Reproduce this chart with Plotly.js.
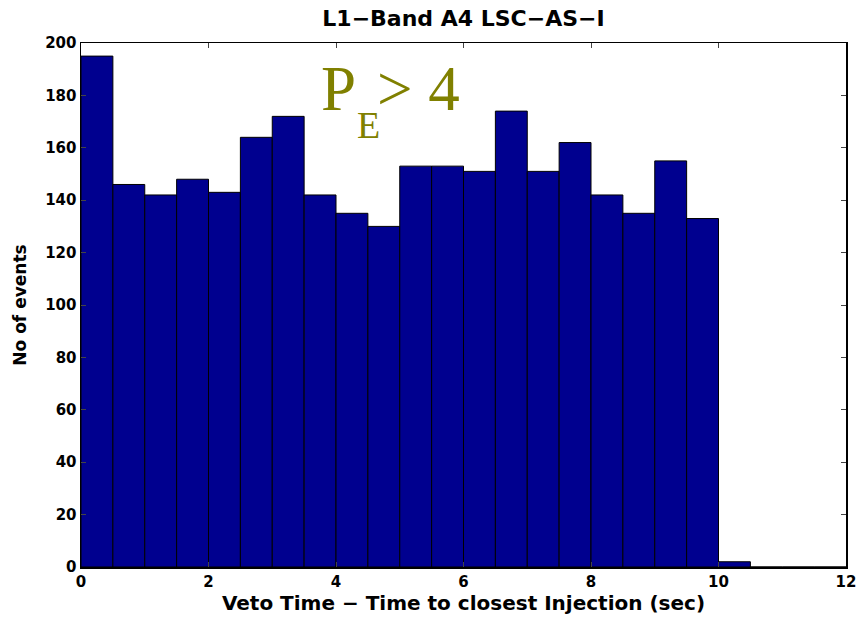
<!DOCTYPE html>
<html>
<head>
<meta charset="utf-8">
<script src="https://cdn.plot.ly/plotly-3.0.1.min.js"></script>
<style>html,body{margin:0;padding:0;background:#fff;}#chart{width:857px;height:618px;}</style>
</head>
<body>
<div id="chart"></div>
<script>
var binCenters = [0.25,0.75,1.25,1.75,2.25,2.75,3.25,3.75,4.25,4.75,5.25,5.75,6.25,6.75,7.25,7.75,8.25,8.75,9.25,9.75,10.25,10.75,11.25,11.75];
var counts = [195,146,142,148,143,164,172,142,135,130,153,153,151,174,151,162,142,135,155,133,2,0,0,0];
var xTicks = [0,2,4,6,8,10,12];
var yTicks = [0,20,40,60,80,100,120,140,160,180,200];

var font = 'DejaVu Sans, Liberation Sans, Arial, sans-serif';
var serif = 'Liberation Serif, Times New Roman, serif';
var olive = '#808000';
var trace = {
  type: 'bar',
  x: binCenters,
  y: counts,
  width: 0.5,
  marker: {color: '#00008f', line: {color: '#000000', width: 1}},
  hoverinfo: 'x+y'
};
var layout = {
  width: 857, height: 618,
  margin: {l: 81, r: 11, t: 43, b: 51},
  paper_bgcolor: '#fff', plot_bgcolor: '#fff',
  showlegend: false,
  bargap: 0,
  title: {text: '<b>L1\u2212Band A4 LSC\u2212AS\u2212I</b>', xref: 'paper', x: 0.5, xanchor: 'center', y: 0.971, yanchor: 'middle',
          font: {family: font, size: 22, color: '#000'}},
  xaxis: {range: [0, 12], tickvals: xTicks, ticktext: xTicks.map(String), ticks: 'inside', ticklen: 5,
          showline: true, mirror: 'ticks', linecolor: '#000', linewidth: 1.5, showgrid: false, zeroline: false,
          tickfont: {family: font, size: 15, color: '#000', weight: 'bold'},
          title: {text: '<b>Veto Time \u2212 Time to closest Injection (sec)</b>', standoff: 6,
                  font: {family: font, size: 20, color: '#000'}}},
  yaxis: {range: [0, 200], tickvals: yTicks, ticktext: yTicks.map(String), ticks: 'inside', ticklen: 5,
          showline: true, mirror: 'ticks', linecolor: '#000', linewidth: 1.5, showgrid: false, zeroline: false,
          tickfont: {family: font, size: 15, color: '#000', weight: 'bold'},
          title: {text: '<b>No of events</b>', standoff: 14,
                  font: {family: font, size: 17, color: '#000'}}},
  annotations: [
    {xref: 'paper', yref: 'paper', x: 0.311, y: 0.9128, xanchor: 'left', yanchor: 'middle',
     text: 'P', showarrow: false, font: {family: serif, size: 63, color: olive}},
    {xref: 'paper', yref: 'paper', x: 0.358, y: 0.843, xanchor: 'left', yanchor: 'middle',
     text: 'E', showarrow: false, font: {family: serif, size: 38, color: olive}},
    {xref: 'paper', yref: 'paper', x: 0.384, y: 0.9128, xanchor: 'left', yanchor: 'middle',
     text: '> 4', showarrow: false, font: {family: serif, size: 63, color: olive}}
  ]
};
Plotly.newPlot('chart', [trace], layout, {displayModeBar: false, staticPlot: true});
</script>
</body>
</html>
